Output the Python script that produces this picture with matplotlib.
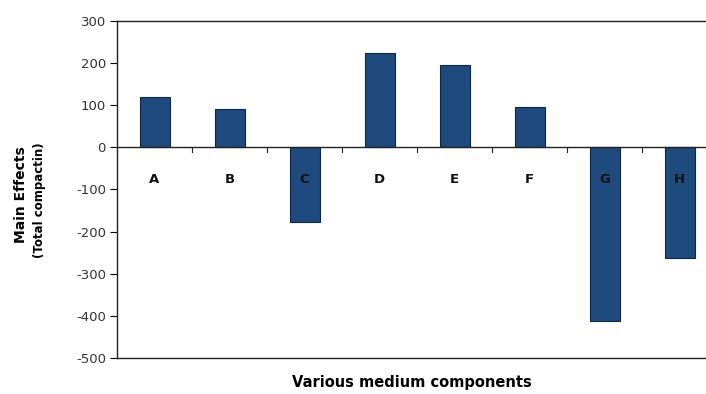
import matplotlib.pyplot as plt
import numpy as np

plt.rcParams['font.family'] = ['DejaVu Sans']

categories = ['A', 'B', 'C', 'D', 'E', 'F', 'G', 'H']
effects = [120, 90, -178, 224, 196, 96, -412, -263]
yticks = [300, 200, 100, 0, -100, -200, -300, -400, -500]

fig = plt.figure(figsize=(7.06, 3.94), dpi=100)
# axes runs past the right edge of the picture, as in the cropped original
ax = fig.add_axes([117 / 706, 1 - 358 / 394, 600 / 706, 337 / 394])

x = np.arange(len(categories))
ax.bar(x, effects, width=0.4, color='#1f4a7e', edgecolor='#0f2747', linewidth=0.8, zorder=2)

ax.set_xlim(-0.5, len(categories) - 0.5)
ax.set_ylim(-500, 300)
ax.set_yticks(yticks)
ax.set_yticklabels([str(v) for v in yticks], fontsize=9.5, color='#333333')
ax.tick_params(axis='y', length=5, width=0.8, pad=3)

# category axis sits on the zero line, ticks between categories
ax.set_xticks([])
ax.axhline(0, color='#222222', linewidth=1.0, zorder=3)
for b in np.arange(0.5, len(categories) - 0.5, 1.0):
    ax.plot([b, b], [0, -10], color='#222222', linewidth=0.8, zorder=3, clip_on=False)
for xi, name in zip(x, categories):
    ax.text(xi, -77, name, ha='center', va='center', fontsize=9.5, fontweight='bold', color='#111111', zorder=4)

for side in ['left', 'bottom', 'top']:
    ax.spines[side].set_color('#222222')
    ax.spines[side].set_linewidth(1.0)
ax.spines['right'].set_visible(False)

fig.text(21 / 706, 1 - 195 / 394, 'Main Effects', rotation=90, ha='center', va='center',
         fontsize=10, fontweight='bold')
fig.text(39 / 706, 1 - 200 / 394, '(Total compactin)', rotation=90, ha='center', va='center',
         fontsize=8.5, fontweight='bold')
fig.text(412 / 706, 1 - 383 / 394, 'Various medium components', ha='center', va='center',
         fontsize=10.5, fontweight='bold')

fig.savefig('out.png', dpi=100)
